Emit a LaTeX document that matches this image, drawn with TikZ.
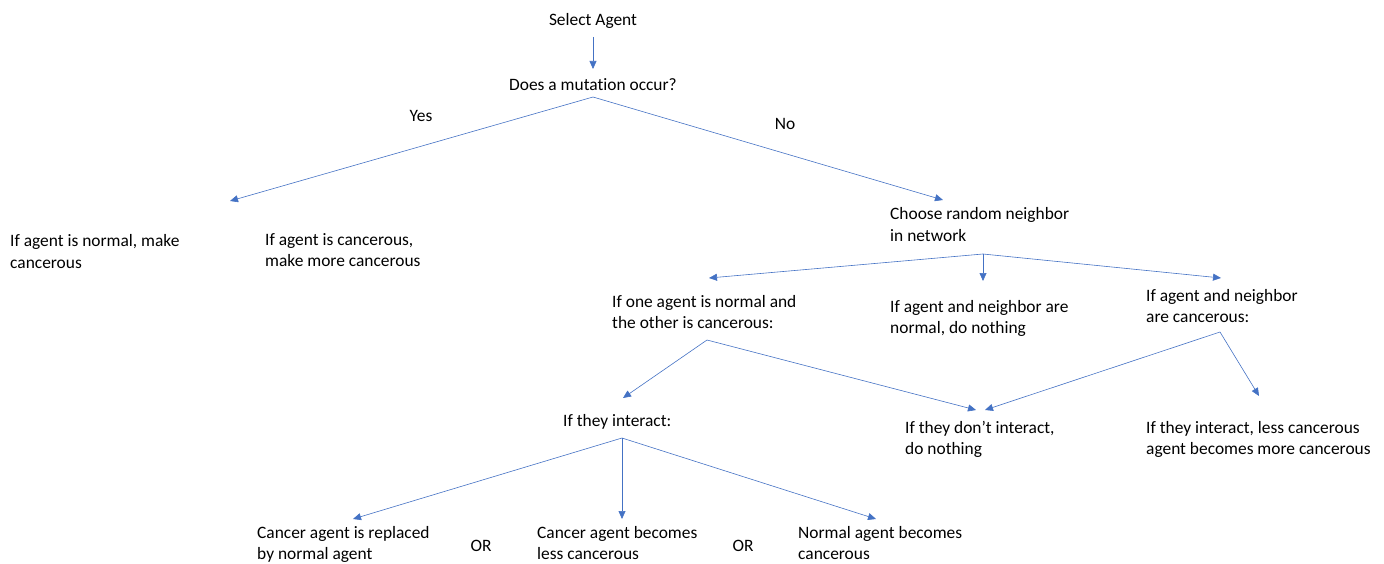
\documentclass[tikz,border=0pt]{standalone}
\usepackage{fontspec}
\setmainfont{Carlito}[Ligatures=NoCommon]
\usepackage{xcolor}
\usepackage{tikz}
\usetikzlibrary{arrows.meta}

\definecolor{flowblue}{RGB}{68,114,196}

\begin{document}
\begin{tikzpicture}[x=1pt, y=-1pt,
    txt/.style={inner sep=0pt, align=left, font=\fontsize{17.4}{21}\selectfont},
    flow/.style={draw=flowblue, line width=0.6pt, -{Triangle[length=8pt, width=7pt]}}]
  \useasboundingbox (0,0) rectangle (1384,564);

  % text (two-line nodes sit on their last line)
  \node[txt, anchor=base] (sel) at (593,26) {Select Agent};
  \node[txt, anchor=base] (mut) at (593,91) {Does a mutation occur?};
  \node[txt, anchor=base] (yes) at (421,122) {Yes};
  \node[txt, anchor=base] (no) at (785,130) {No};
  \node[txt, anchor=base west] (mknorm) at (10,268) {If agent is normal, make\\cancerous};
  \node[txt, anchor=base west] (mkmore) at (265,266) {If agent is cancerous,\\make more cancerous};
  \node[txt, anchor=base west] (choose) at (890,241) {Choose random neighbor\\in network};
  \node[txt, anchor=base west] (mixed) at (612,328) {If one agent is normal and\\the other is cancerous:};
  \node[txt, anchor=base west] (bothnorm) at (890,333) {If agent and neighbor are\\normal, do nothing};
  \node[txt, anchor=base west] (bothcanc) at (1146,322) {If agent and neighbor\\are cancerous:};
  \node[txt, anchor=base west] (inter) at (563,426) {If they interact:};
  \node[txt, anchor=base west] (nointer) at (905,454) {If they don’t interact,\\do nothing};
  \node[txt, anchor=base west] (lessmore) at (1146,454) {If they interact, less cancerous\\agent becomes more cancerous};
  \node[txt, anchor=base west] (replaced) at (257,559) {Cancer agent is replaced\\by normal agent};
  \node[txt, anchor=base] (or1) at (481,551) {OR};
  \node[txt, anchor=base west] (lessc) at (537,559) {Cancer agent becomes\\less cancerous};
  \node[txt, anchor=base] (or2) at (743,551) {OR};
  \node[txt, anchor=base west] (normc) at (798,559) {Normal agent becomes\\cancerous};

  % forks and arrow tips
  \coordinate (selfoot) at (593,37);
  \coordinate (muttip) at (593,69);
  \coordinate (mutfork) at (593,97);
  \coordinate (yestip) at (230,201);
  \coordinate (notip) at (943,200);
  \coordinate (choosefork) at (983,254);
  \coordinate (mixedtip) at (709,278);
  \coordinate (normtip) at (983,281);
  \coordinate (canctip) at (1221,278);
  \coordinate (mixedfork) at (707,340);
  \coordinate (intertip) at (623,398);
  \coordinate (noleft) at (976,410);
  \coordinate (cancfork) at (1220,332);
  \coordinate (noright) at (985,410);
  \coordinate (moretip) at (1259,396);
  \coordinate (interfork) at (622,438);
  \coordinate (repltip) at (353,519);
  \coordinate (lesstip) at (622,519);
  \coordinate (normctip) at (876,519);

  \draw[flow] (selfoot) -- (muttip);
  \draw[flow] (mutfork) -- (yestip);
  \draw[flow] (mutfork) -- (notip);
  \draw[flow] (choosefork) -- (mixedtip);
  \draw[flow] (choosefork) -- (normtip);
  \draw[flow] (choosefork) -- (canctip);
  \draw[flow] (mixedfork) -- (intertip);
  \draw[flow] (mixedfork) -- (noleft);
  \draw[flow] (cancfork) -- (noright);
  \draw[flow] (cancfork) -- (moretip);
  \draw[flow] (interfork) -- (repltip);
  \draw[flow] (interfork) -- (lesstip);
  \draw[flow] (interfork) -- (normctip);
\end{tikzpicture}
\end{document}
